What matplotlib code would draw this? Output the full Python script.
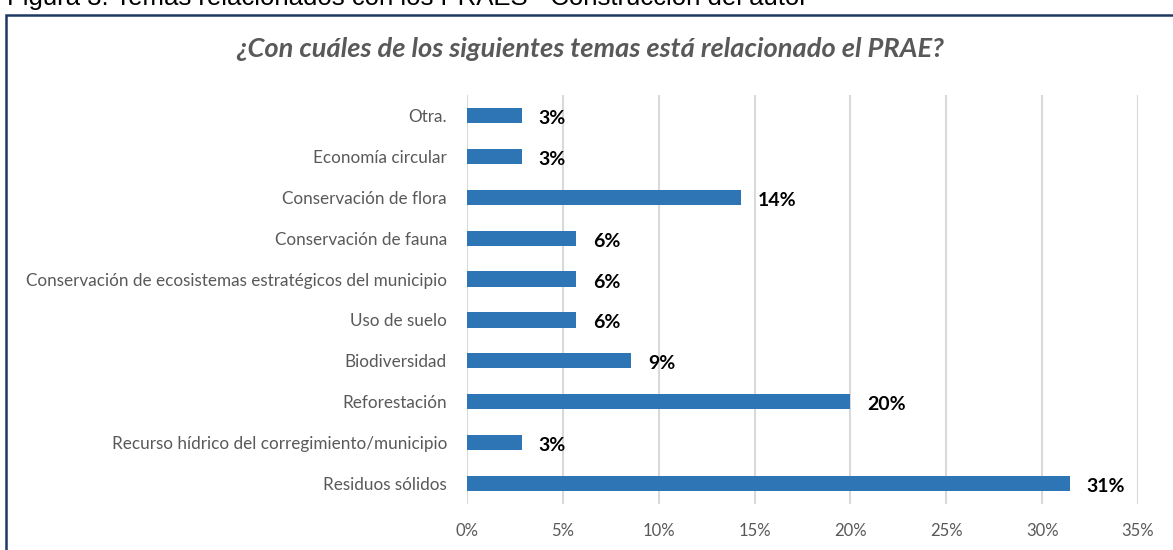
import matplotlib
matplotlib.use("Agg")
import matplotlib.pyplot as plt
from matplotlib.patches import Rectangle
from matplotlib.ticker import FuncFormatter

categories = [
    "Residuos sólidos",
    "Recurso hídrico del corregimiento/municipio",
    "Reforestación",
    "Biodiversidad",
    "Uso de suelo",
    "Conservación de ecosistemas estratégicos del municipio",
    "Conservación de fauna",
    "Conservación de flora",
    "Economía circular",
    "Otra.",
]
values = [31.43, 2.86, 20.0, 8.57, 5.71, 5.71, 5.71, 14.29, 2.86, 2.86]
value_labels = ["31%", "3%", "20%", "9%", "6%", "6%", "6%", "14%", "3%", "3%"]
x_ticks = [0, 5, 10, 15, 20, 25, 30, 35]

title = "¿Con cuáles de los siguientes temas está relacionado el PRAE?"
caption = "Figura 3. Temas relacionados con los PRAES - Construcción del autor"

W, H = 1173, 550
fig = plt.figure(figsize=(W / 100, H / 100), dpi=100)
fig.patch.set_facecolor("white")

# outer border
fig.patches.append(Rectangle((6 / W, -0.05), 1.2, 1 - 15 / H + 0.05,
                             transform=fig.transFigure, fill=False,
                             edgecolor="#1f3864", linewidth=1.8, zorder=0))

fig.text(7 / W, 1 - 5 / H, caption, fontsize=18.5, family="Liberation Sans",
         color="black", va="baseline", ha="left")

ax = fig.add_axes([467 / W, 1 - 504 / H, (1138 - 467) / W, (504 - 95) / H])
y = list(range(len(categories)))
ax.barh(y, values, height=0.37, color="#2e75b6", zorder=3)
ax.set_xlim(0, 35)
ax.set_ylim(-0.5, 9.5)
ax.set_yticks(y)
ax.set_yticklabels(categories, fontsize=12.3, color="#595959", family="Lato")
ax.set_xticks(x_ticks)
ax.xaxis.set_major_formatter(FuncFormatter(lambda v, p: f"{int(v)}%"))
for lab in ax.get_xticklabels():
    lab.set_fontsize(12)
    lab.set_color("#595959")
    lab.set_family("Lato")
ax.tick_params(axis="both", length=0)
ax.tick_params(axis="y", pad=14.4)
ax.tick_params(axis="x", pad=13.5)
for s in ax.spines.values():
    s.set_visible(False)
ax.grid(axis="x", color="#d9d9d9", linewidth=1.5, zorder=0)
ax.set_axisbelow(True)

for yi, v, lab in zip(y, values, value_labels):
    ax.annotate(lab, (v, yi), xytext=(17, -3), textcoords="offset pixels",
                ha="left", va="center", fontsize=14, fontweight="bold",
                color="black", family="Lato")

fig.text(590 / W, 1 - 49 / H, title, fontsize=19.6, fontweight="bold",
         style="italic", color="#595959", family="Lato", ha="center", va="center")

fig.savefig("out.png", dpi=100)
